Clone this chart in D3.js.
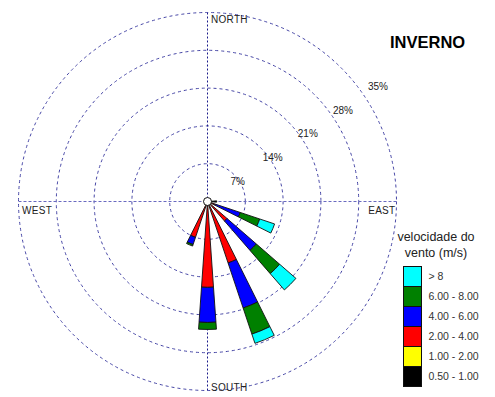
<!DOCTYPE html>
<html>
<head>
<meta charset="utf-8">
<script src="https://cdn.jsdelivr.net/npm/d3@7"></script>
<style>
  html, body { margin: 0; padding: 0; background: #fff; }
  svg { display: block; font-family: Arial, "Liberation Sans", sans-serif; }
</style>
</head>
<body>
<svg id="rose" width="495" height="397"></svg>
<script>
// Wind directions, clockwise from north
const directions = ["N","NNE","NE","ENE","E","ESE","SE","SSE","S","SSW","SW","WSW","W","WNW","NW","NNW"];

// Frequency (%) of each speed class per direction
const speed050_100 = [0,0,0,0,1.7,0.6,0.6,0.6,0.6,0.6,0,0,0,0,0,0];
const speed100_200 = [0,0,0,0,0,0.2,0.2,0.2,0.2,0.2,0,0,0,0,0,0];
const speed200_400 = [0,0,0,0,0,0.7,4.0,11.2,15.1,6.2,0,0,0,0,0,0];
const speed400_600 = [0,0,0,0,0,4.9,7.2,8.8,6.5,1.4,0,0,0,0,0,0];
const speed600_800 = [0,0,0,0,0,3.8,5.7,5.1,1.3,0.3,0,0,0,0,0,0];
const speedAbove8  = [0,0,0,0,0,2.9,4.0,1.8,0,0,0,0,0,0,0,0];

const speedClasses = ["0.50 - 1.00","1.00 - 2.00","2.00 - 4.00","4.00 - 6.00","6.00 - 8.00","> 8"];
const classColors  = ["#000000","#ffff00","#ff0000","#0000ff","#008000","#00ffff"];
const ringTicks = [7, 14, 21, 28, 35];
const compassLabels = ["NORTH","EAST","SOUTH","WEST"];
const title = "INVERNO";
const legendTitle = ["velocidade do", "vento (m/s)"];

const series = [speed050_100, speed100_200, speed200_400, speed400_600, speed600_800, speedAbove8];

const svg = d3.select("#rose");
const cx = 207.5, cy = 201.5;
const r = d3.scaleLinear().domain([0, 35]).range([0, 189]);
const angle = d3.scaleLinear().domain([0, directions.length]).range([0, 2 * Math.PI]);
const halfWidth = 4 * Math.PI / 180;

const g = svg.append("g").attr("transform", `translate(${cx},${cy})`);

// Rings
g.selectAll("circle.ring").data(ringTicks).join("circle")
  .attr("class", "ring")
  .attr("r", d => r(d))
  .attr("fill", "none")
  .attr("stroke", "#4646a6")
  .attr("stroke-width", 1)
  .attr("stroke-dasharray", "3,3");

// Axis lines
const R = r(35);
g.append("line").attr("x1", -R).attr("x2", R).attr("y1", 0).attr("y2", 0)
  .attr("stroke", "#6a6ac0").attr("stroke-dasharray", "3,2");
g.append("line").attr("x1", 0).attr("x2", 0).attr("y1", -R).attr("y2", R)
  .attr("stroke", "#1a1a8a").attr("stroke-dasharray", "2,2");

// Ring labels along the 56 degree bearing
const labAng = 56 * Math.PI / 180;
const labR = d => r(d) * 1.12 - 6;
g.selectAll("text.tick").data(ringTicks).join("text")
  .attr("class", "tick")
  .attr("x", d => labR(d) * Math.sin(labAng))
  .attr("y", d => -labR(d) * Math.cos(labAng))
  .attr("dy", "0.35em")
  .attr("text-anchor", "middle")
  .attr("font-size", 10)
  .attr("fill", "#222")
  .text(d => d + "%");

// Compass labels
const compassPos = [
  { x: 3.5, y: -R + 10, anchor: "start" },
  { x: R - 1, y: 12.5, anchor: "end" },
  { x: 3.5, y: R + 0.5, anchor: "start" },
  { x: -R + 3.5, y: 12.5, anchor: "start" }
];
g.selectAll("text.compass").data(compassLabels).join("text")
  .attr("class", "compass")
  .attr("x", (d, i) => compassPos[i].x)
  .attr("y", (d, i) => compassPos[i].y)
  .attr("text-anchor", (d, i) => compassPos[i].anchor)
  .attr("font-size", 10)
  .attr("letter-spacing", 0.3)
  .attr("fill", "#222")
  .text(d => d);

// Stacked petals
const arc = d3.arc();
const petals = [];
directions.forEach((dir, i) => {
  let base = 0;
  series.forEach((vals, k) => {
    const v = vals[i];
    if (v > 0) {
      petals.push({ dir, k, inner: base, outer: base + v, a: angle(i) });
    }
    base += v;
  });
});
g.selectAll("path.petal").data(petals).join("path")
  .attr("class", "petal")
  .attr("d", d => arc({
    innerRadius: r(d.inner),
    outerRadius: r(d.outer),
    startAngle: d.a - halfWidth,
    endAngle: d.a + halfWidth
  }))
  .attr("fill", d => classColors[d.k])
  .attr("stroke", "#111")
  .attr("stroke-width", 0.9)
  .attr("stroke-linejoin", "miter");

// Calm circle
g.append("circle").attr("r", 4).attr("fill", "#fff").attr("stroke", "#111").attr("stroke-width", 1);

// Title
svg.append("text").attr("x", 390).attr("y", 47.5)
  .attr("font-size", 16.5).attr("font-weight", "bold").attr("fill", "#000")
  .text(title);

// Legend
svg.selectAll("text.ltitle").data(legendTitle).join("text")
  .attr("class", "ltitle")
  .attr("x", 436).attr("y", (d, i) => 241 + i * 16)
  .attr("text-anchor", "middle")
  .attr("font-size", 12.5)
  .attr("fill", "#222")
  .text(d => d);

const legendOrder = d3.range(speedClasses.length).reverse();
const lg = svg.append("g").attr("transform", "translate(403.5,266.5)");
const rows = lg.selectAll("g.row").data(legendOrder).join("g")
  .attr("class", "row")
  .attr("transform", (d, i) => `translate(0,${i * 20})`);
rows.append("rect").attr("width", 18).attr("height", 20)
  .attr("fill", d => classColors[d]).attr("stroke", "#111").attr("stroke-width", 1);
rows.append("text").attr("x", 25).attr("y", 10).attr("dy", "0.35em")
  .attr("font-size", 10.5).attr("fill", "#333")
  .text(d => speedClasses[d]);
</script>
</body>
</html>
